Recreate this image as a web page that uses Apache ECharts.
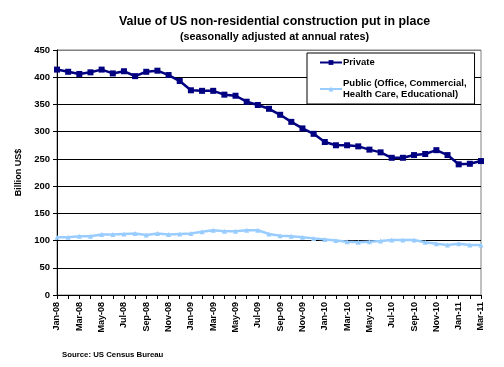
<!DOCTYPE html>
<html>
<head>
<meta charset="utf-8">
<script src="https://cdn.jsdelivr.net/npm/echarts@6/dist/echarts.min.js"></script>
<style>html,body{margin:0;padding:0;background:#fff}#c{width:504px;height:367px}</style>
</head>
<body>
<div id="c"></div>
<script>
var months = ['Jan-08','Feb-08','Mar-08','Apr-08','May-08','Jun-08','Jul-08','Aug-08','Sep-08','Oct-08','Nov-08','Dec-08',
  'Jan-09','Feb-09','Mar-09','Apr-09','May-09','Jun-09','Jul-09','Aug-09','Sep-09','Oct-09','Nov-09','Dec-09',
  'Jan-10','Feb-10','Mar-10','Apr-10','May-10','Jun-10','Jul-10','Aug-10','Sep-10','Oct-10','Nov-10','Dec-10',
  'Jan-11','Feb-11','Mar-11'];
var privateValues = [414,410,406,409,414,407,411,402,410,412,404,393,
  376,375,375,368,366,355,349,342,331,318,306,296,
  281,275,275,273,267,262,252,252,257,259,266,257,
  240,241,246];
var publicValues = [106,106,108,108,111,111,112,113,110,113,111,112,
  113,116,119,117,117,119,119,112,109,108,106,104,
  102,100,98,97,98,99,101,101,101,97,94,92,
  94,92,92];
var yTicks = {min:0, max:450, interval:50};

var chart = echarts.init(document.getElementById('c'));
var font = 'Liberation Sans, Arial, sans-serif';
chart.setOption({
  animation:false,
  backgroundColor:'#fff',
  title:[
    {text:'Value of US non-residential construction put in place', left:114, top:11,
     textStyle:{fontFamily:font, fontSize:12.4, fontWeight:'bold', color:'#000'}},
    {text:'(seasonally adjusted at annual rates)', left:175, top:27,
     textStyle:{fontFamily:font, fontSize:10.8, fontWeight:'bold', color:'#000'}},
    {text:'Source: US Census Bureau', left:57, top:346,
     textStyle:{fontFamily:font, fontSize:7.8, fontWeight:'bold', color:'#000'}}
  ],
  grid:{left:57, right:23, top:50, bottom:72, show:true, borderColor:'#808080', borderWidth:1, backgroundColor:'#fff'},
  legend:{
    orient:'vertical', left:307, top:53, width:170,
    padding:[4,8,4,12], itemGap:10,
    backgroundColor:'#fff', borderColor:'#000', borderWidth:1,
    itemWidth:22, itemHeight:6,
    textStyle:{fontFamily:font, fontSize:9.5, fontWeight:'bold', color:'#000', lineHeight:11, padding:[0,0,0,-4]},
    formatter:function(n){ return n.replace('Commercial, ','Commercial,\n'); },
    data:['Private','Public (Office, Commercial, Health Care, Educational)']
  },
  xAxis:{
    type:'category', data:months, boundaryGap:false,
    axisLine:{lineStyle:{color:'#000', width:1}},
    axisTick:{show:true, interval:0, inside:false, length:4, lineStyle:{color:'#000'}},
    axisLabel:{interval:1, rotate:90, margin:7, fontFamily:font, fontSize:9, fontWeight:'bold', color:'#000'},
    splitLine:{show:false}
  },
  yAxis:{
    type:'value', min:yTicks.min, max:yTicks.max, interval:yTicks.interval,
    name:'Billion US$', nameLocation:'middle', nameGap:26, nameRotate:90,
    nameTextStyle:{fontFamily:font, fontSize:9, fontWeight:'bold', color:'#000'},
    axisLine:{show:true, lineStyle:{color:'#000', width:1}},
    axisTick:{show:true, length:4, lineStyle:{color:'#000'}},
    axisLabel:{margin:7, fontFamily:font, fontSize:9.5, fontWeight:'bold', color:'#000'},
    splitLine:{show:true, lineStyle:{color:['#000','#000','#000','#000','#000','#000','#000','#000','#000','#808080'], width:1}}
  },
  series:[
    {name:'Private', type:'line', data:privateValues, symbol:'rect', symbolSize:6,
     lineStyle:{color:'#000080', width:2.5}, itemStyle:{color:'#000080'}, z:3},
    {name:'Public (Office, Commercial, Health Care, Educational)', type:'line', data:publicValues,
     symbol:'triangle', symbolSize:5,
     lineStyle:{color:'#99ccff', width:2.5}, itemStyle:{color:'#99ccff'}, z:2}
  ]
});
</script>
</body>
</html>
